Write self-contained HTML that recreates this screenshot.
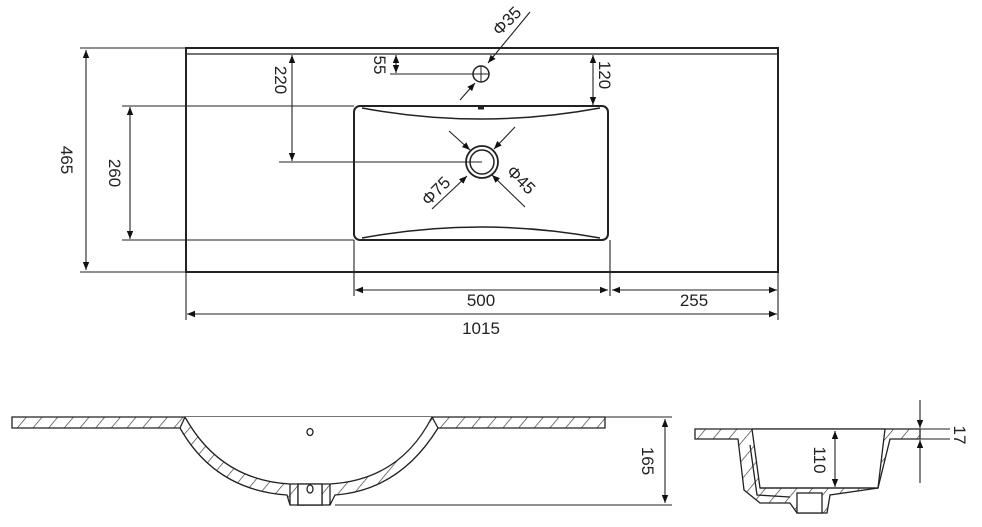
<!DOCTYPE html>
<html><head><meta charset="utf-8"><style>
html,body{margin:0;padding:0;background:#fff;}
svg{display:block;}
text{font-family:"Liberation Sans",sans-serif;font-size:17px;fill:#222;}
</style></head><body>
<svg width="982" height="527" viewBox="0 0 982 527" xmlns="http://www.w3.org/2000/svg">
<defs>
<marker id="a" viewBox="0 0 10 10" refX="10" refY="5" markerWidth="8" markerHeight="8" orient="auto-start-reverse" markerUnits="userSpaceOnUse"><path d="M0,1 L10,5 L0,9 z" fill="#111"/></marker>
<pattern id="h" width="12" height="12" patternUnits="userSpaceOnUse" patternTransform="rotate(40)"><line x1="0" y1="0" x2="0" y2="12" stroke="#333" stroke-width="1.3"/></pattern>
</defs>
<g stroke="#222" fill="none">
<!-- top view -->
<rect x="186" y="48" width="592" height="224" stroke-width="2"/>
<line x1="186" y1="54" x2="778" y2="54" stroke-width="1.2"/>
<rect x="354" y="106" width="254" height="134" rx="6" stroke-width="2"/>
<path d="M362,108 Q481,130 600,108" stroke-width="1.5"/>
<path d="M362,238 Q481,216 600,238" stroke-width="1.5"/>
<line x1="478" y1="108" x2="484" y2="108" stroke-width="3"/>
<circle cx="482" cy="162" r="16" stroke-width="1.8"/>
<circle cx="482" cy="162" r="12" stroke-width="1.5"/>
<circle cx="481" cy="74" r="8" stroke-width="1.5"/>
<line x1="473" y1="74" x2="489" y2="74" stroke-width="1"/><line x1="481" y1="66" x2="481" y2="82" stroke-width="1"/>
<g stroke-width="1.1">
<line x1="80" y1="48" x2="186" y2="48"/><line x1="80" y1="272" x2="186" y2="272"/>
<line x1="86" y1="50" x2="86" y2="270" marker-start="url(#a)" marker-end="url(#a)"/>
<line x1="122" y1="106" x2="354" y2="106"/><line x1="122" y1="240" x2="354" y2="240"/>
<line x1="130" y1="107" x2="130" y2="239" marker-start="url(#a)" marker-end="url(#a)"/>
<line x1="279" y1="162" x2="482" y2="162"/>
<line x1="292" y1="55" x2="292" y2="161" marker-start="url(#a)" marker-end="url(#a)"/>
<line x1="390" y1="74" x2="481" y2="74"/>
<line x1="396" y1="55" x2="396" y2="73" marker-start="url(#a)" marker-end="url(#a)"/>
<line x1="593" y1="55" x2="593" y2="105" marker-start="url(#a)" marker-end="url(#a)"/>
<line x1="530" y1="12" x2="488" y2="63" marker-end="url(#a)"/>
<line x1="460" y1="100" x2="475" y2="83" marker-end="url(#a)"/>
<line x1="449" y1="131" x2="470" y2="150" marker-end="url(#a)"/>
<line x1="515" y1="127" x2="494" y2="149" marker-end="url(#a)"/>
<line x1="432" y1="209" x2="467" y2="176" marker-end="url(#a)"/>
<line x1="525" y1="207" x2="492" y2="175" marker-end="url(#a)"/>
<line x1="186" y1="272" x2="186" y2="320"/><line x1="778" y1="272" x2="778" y2="320"/>
<line x1="354" y1="240" x2="354" y2="296"/><line x1="610" y1="240" x2="610" y2="296"/>
<line x1="355" y1="290" x2="608" y2="290" marker-start="url(#a)" marker-end="url(#a)"/>
<line x1="612" y1="290" x2="777" y2="290" marker-start="url(#a)" marker-end="url(#a)"/>
<line x1="187" y1="314" x2="777" y2="314" marker-start="url(#a)" marker-end="url(#a)"/>
</g>
<!-- front section -->
<g stroke-width="1.3">
<path d="M12,417 L605,417 L605,428 L438,428 Q400,490 335,495 L330,505 L290,505 L287,495 Q215,490 180,428 L12,428 Z" fill="url(#h)"/>
<path d="M180,428 L185,417 M438,428 L432,417"/>
<path d="M185,417 Q220,480 290,484 L330,484 Q400,480 432,417" fill="#fff"/>
<path d="M290,484 L290,505 M330,484 L330,505 M298,484 L298,505 L322,505 L322,484" />
<rect x="298" y="484" width="24" height="21" fill="#fff"/>
<ellipse cx="310" cy="489" rx="3" ry="4"/>
<ellipse cx="310" cy="432" rx="3" ry="3.5"/>
<line x1="605" y1="417" x2="672" y2="417" stroke-width="1"/>
<line x1="335" y1="505" x2="672" y2="505" stroke-width="1"/>
<line x1="665" y1="419" x2="665" y2="503" stroke-width="1.1" marker-start="url(#a)" marker-end="url(#a)"/>
</g>
<!-- side section -->
<g stroke-width="1.3">
<path d="M695,429 L920,429 L920,439 L890,439 L878,488 L830,495 L827,513 L797,513 L790,503 L760,503 L744,490 L738,439 L695,439 Z" fill="url(#h)"/>
<path d="M752,429 L760,488 L878,488 L885,429 Z" fill="#fff"/>
<path d="M760,488 L878,488" />
<rect x="797" y="493" width="25" height="20" fill="#fff"/>
<path d="M750,445 L757,495 L790,497"/>
<line x1="920" y1="429" x2="950" y2="429" stroke-width="1"/>
<line x1="920" y1="439" x2="950" y2="439" stroke-width="1"/>
<line x1="920" y1="400" x2="920" y2="428" stroke-width="1.1" marker-end="url(#a)"/>
<line x1="920" y1="483" x2="920" y2="440" stroke-width="1.1" marker-end="url(#a)"/>
<line x1="835" y1="431" x2="835" y2="487" stroke-width="1.1" marker-start="url(#a)" marker-end="url(#a)"/>
</g>
</g>
<!-- labels -->
<text transform="translate(61,160) rotate(90)" text-anchor="middle">465</text>
<text transform="translate(109,173) rotate(90)" text-anchor="middle">260</text>
<text transform="translate(275,80) rotate(90)" text-anchor="middle">220</text>
<text transform="translate(374,65) rotate(90)" text-anchor="middle">55</text>
<text transform="translate(599,75) rotate(90)" text-anchor="middle">120</text>
<text transform="translate(511,25) rotate(-45)" text-anchor="middle">Φ35</text>
<text transform="translate(440,195) rotate(-45)" text-anchor="middle">Φ75</text>
<text transform="translate(517,184) rotate(45)" text-anchor="middle">Φ45</text>
<text x="481" y="306" text-anchor="middle">500</text>
<text x="694" y="306" text-anchor="middle">255</text>
<text x="481" y="334" text-anchor="middle">1015</text>
<text transform="translate(642,461) rotate(90)" text-anchor="middle">165</text>
<text transform="translate(814,460) rotate(90)" text-anchor="middle">110</text>
<text transform="translate(954,435) rotate(90)" text-anchor="middle">17</text>
</svg>
</body></html>
